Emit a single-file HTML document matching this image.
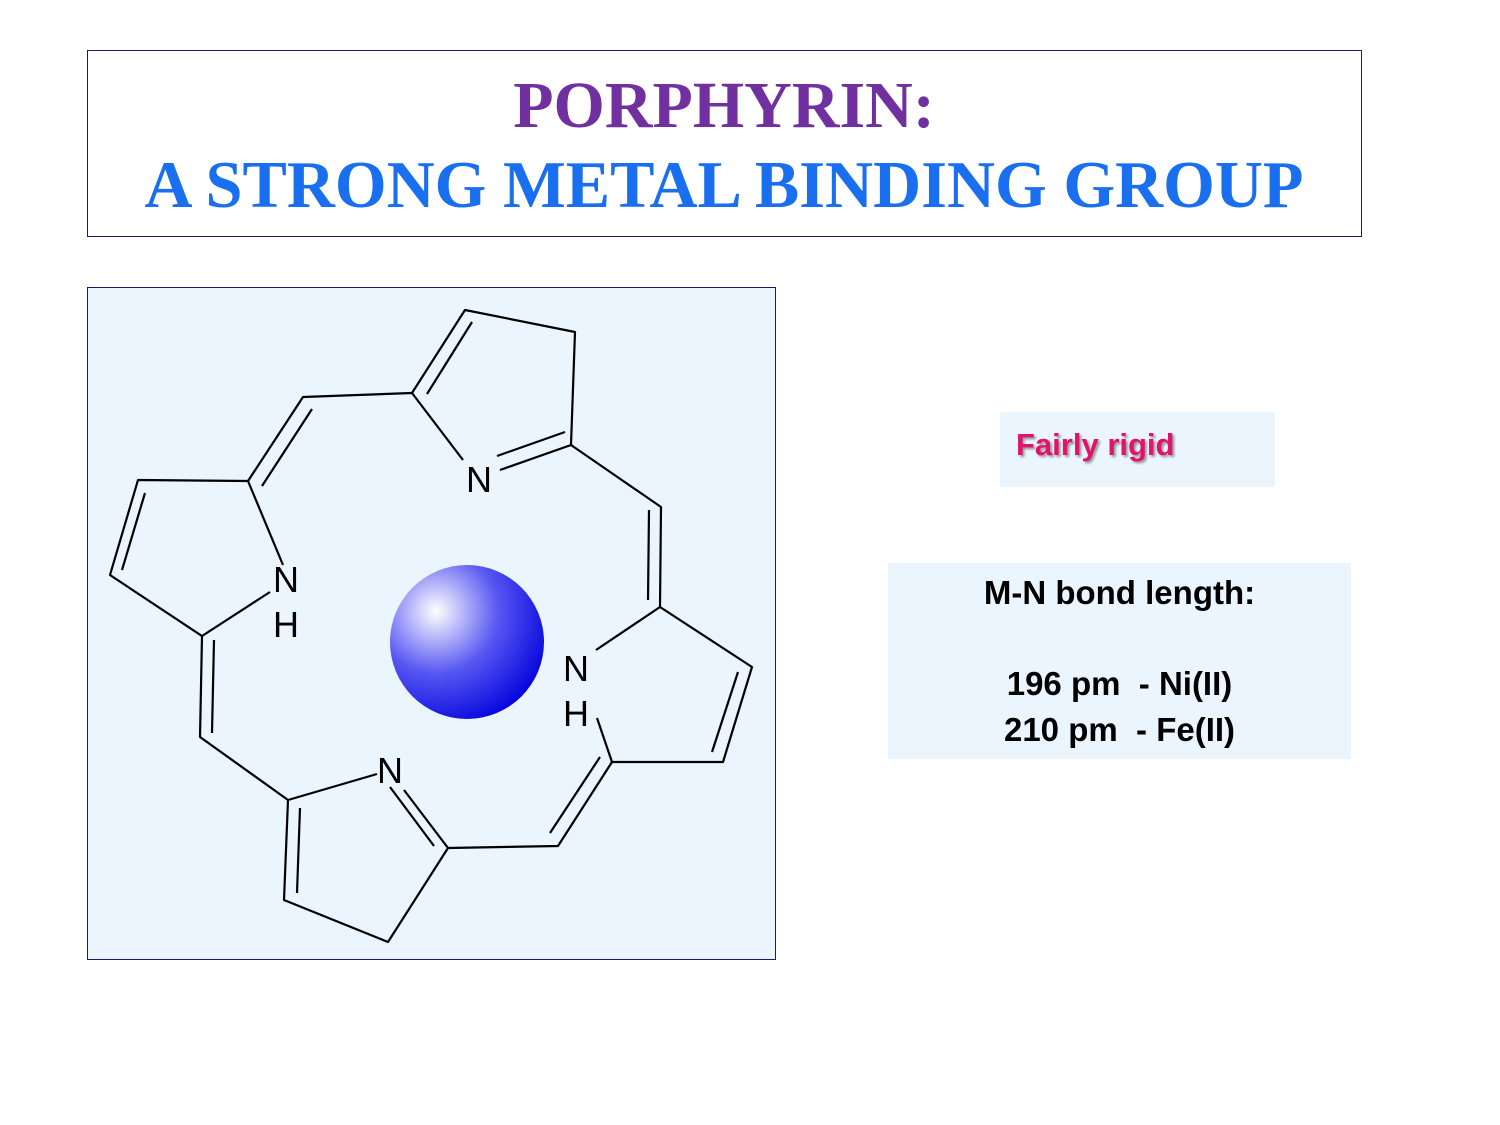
<!DOCTYPE html>
<html><head><meta charset="utf-8"><style>
html,body{margin:0;padding:0;background:#fff;}
body{width:1500px;height:1125px;position:relative;overflow:hidden;font-family:"Liberation Sans",sans-serif;}
.abs{position:absolute;}
</style></head><body>
<div class="abs" style="left:87px;top:50px;width:1275px;height:187px;border:1.5px solid #1a1a6e;box-sizing:border-box;"></div>
<div class="abs" style="left:87px;top:68px;width:1274px;text-align:center;font-family:'Liberation Serif',serif;font-weight:bold;font-size:66px;line-height:76px;color:#7030A0;">PORPHYRIN:</div>
<div class="abs" style="left:87px;top:148px;width:1274px;text-align:center;font-family:'Liberation Serif',serif;font-weight:bold;font-size:66.5px;line-height:76px;color:#1a6ff0;">A STRONG METAL BINDING GROUP</div>

<div class="abs" style="left:87px;top:287px;width:689px;height:673px;background:#EAF5FD;border:1.5px solid #1a1a6e;box-sizing:border-box;"></div>
<svg class="abs" style="left:0;top:0" width="1500" height="1125">
<defs><radialGradient id="g" cx="0.3" cy="0.3" r="0.8"><stop offset="0" stop-color="#ffffff"/><stop offset="0.5" stop-color="#5858f2"/><stop offset="1" stop-color="#0000dd"/></radialGradient></defs>
<g stroke="#000" stroke-width="2.2" fill="none" stroke-linejoin="round">
<polyline points="412,393 465,310 575,332 571,445 500,470"/>
<line x1="427" y1="394" x2="472" y2="322"/>
<line x1="565" y1="432" x2="497" y2="456"/>
<line x1="412" y1="393" x2="463" y2="460"/>
<polyline points="412,393 303,397 248,481"/>
<line x1="312" y1="409" x2="262" y2="486"/>
<polyline points="283,565 248,481 138,480 110,575 202,636 270,592"/>
<line x1="145" y1="493" x2="122" y2="570"/>
<polyline points="202,636 200,737 288,800 377,774"/>
<line x1="214" y1="640" x2="212" y2="733"/>
<polyline points="288,800 284,900 388,942 448,848 404,790"/>
<line x1="300" y1="808" x2="297" y2="893"/>
<line x1="434" y1="846" x2="390" y2="787"/>
<polyline points="448,848 558,846 612,762 723,762 752,667 660,607 596,650"/>
<line x1="550" y1="833" x2="600" y2="757"/>
<line x1="738" y1="672" x2="712" y2="752"/>
<line x1="612" y1="762" x2="597" y2="718"/>
<polyline points="660,607 661,507 571,445"/>
<line x1="648" y1="600" x2="649" y2="510"/>
</g>
<g font-family="Liberation Sans, sans-serif" font-size="36" fill="#000">
<text x="466" y="492">N</text>
<text x="273" y="592">N</text>
<text x="273" y="637">H</text>
<text x="377" y="783">N</text>
<text x="563" y="681">N</text>
<text x="563" y="726">H</text>
</g>
<circle cx="467" cy="642" r="77" fill="url(#g)"/>
</svg>

<div class="abs" style="left:1000px;top:412px;width:275px;height:75px;background:#EAF5FD;"></div>
<div class="abs" style="left:1016px;top:427px;font-weight:bold;font-size:31px;color:#E0146E;text-shadow:2px 2px 2px #999;">Fairly rigid</div>

<div class="abs" style="left:888px;top:563px;width:463px;height:196px;background:#EAF5FD;"></div>
<div class="abs" style="left:888px;top:570px;width:463px;text-align:center;font-weight:bold;font-size:33px;line-height:45.5px;color:#000;">M-N bond length:<br><br>196 pm&nbsp; - Ni(II)<br>210 pm&nbsp; - Fe(II)</div>
</body></html>
